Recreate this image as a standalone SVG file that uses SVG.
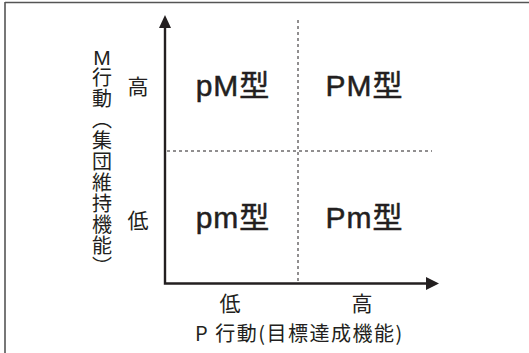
<svg xmlns="http://www.w3.org/2000/svg" width="529" height="353" viewBox="0 0 529 353">
<defs>
<style>
.frame{stroke:#555;stroke-width:1.6;fill:none}
.axis{stroke:#231f20;stroke-width:2.4;fill:none}
.dash{stroke:#231f20;stroke-width:1;stroke-dasharray:3 3;fill:none}
.head{fill:#231f20}
.lbl{font-family:"Noto Sans CJK JP","Liberation Sans",sans-serif;font-size:20px;fill:#231f20}
.tick{font-family:"Noto Sans CJK JP","Liberation Sans",sans-serif;font-size:21px;fill:#231f20}
.quad{font-family:"Liberation Sans","Noto Sans CJK JP",sans-serif;font-size:30px;letter-spacing:1px;fill:#231f20;stroke:#231f20;stroke-width:0.5}
</style>
</defs>
<rect width="529" height="353" fill="#fff"/>
<g id="frame">
<line class="frame" x1="5" y1="2.5" x2="529" y2="2.5"/>
<line class="frame" x1="5" y1="2" x2="5" y2="353"/>
</g>
<g id="connectors">
<line class="dash" x1="298" y1="20" x2="298" y2="283"/>
<line class="dash" x1="167" y1="151" x2="432" y2="151"/>
<polyline class="axis" points="165,27 165,283.5 427,283.5"/>
<polygon class="head" points="165,15 159,28 171,28"/>
<polygon class="head" points="439,283.5 426,277 426,290"/>
</g>
<g id="yaxis-label">
<text x="102" y="65" text-anchor="middle" style="font-family:'Liberation Sans',sans-serif;font-size:21px;fill:#231f20">M</text>
<text class="lbl" x="102" y="67" style="writing-mode:vertical-rl;text-orientation:upright;letter-spacing:1px">行動（集団維持機能）</text>
</g>
<g id="y-high"><text class="tick" x="138" y="94" text-anchor="middle">高</text></g>
<g id="y-low"><text class="tick" x="138" y="228" text-anchor="middle">低</text></g>
<g id="x-low"><text class="tick" x="230" y="311" text-anchor="middle">低</text></g>
<g id="x-high"><text class="tick" x="362" y="311" text-anchor="middle">高</text></g>
<g id="xaxis-label"><text class="lbl" x="195" y="341" style="letter-spacing:1.5px">P 行動(目標達成機能)</text></g>
<g id="pM"><text class="quad" x="233" y="96" text-anchor="middle">pM型</text></g>
<g id="PM"><text class="quad" x="364.5" y="96" text-anchor="middle">PM型</text></g>
<g id="pm"><text class="quad" x="233" y="228" text-anchor="middle">pm型</text></g>
<g id="Pm"><text class="quad" x="364.5" y="228" text-anchor="middle">Pm型</text></g>
</svg>
